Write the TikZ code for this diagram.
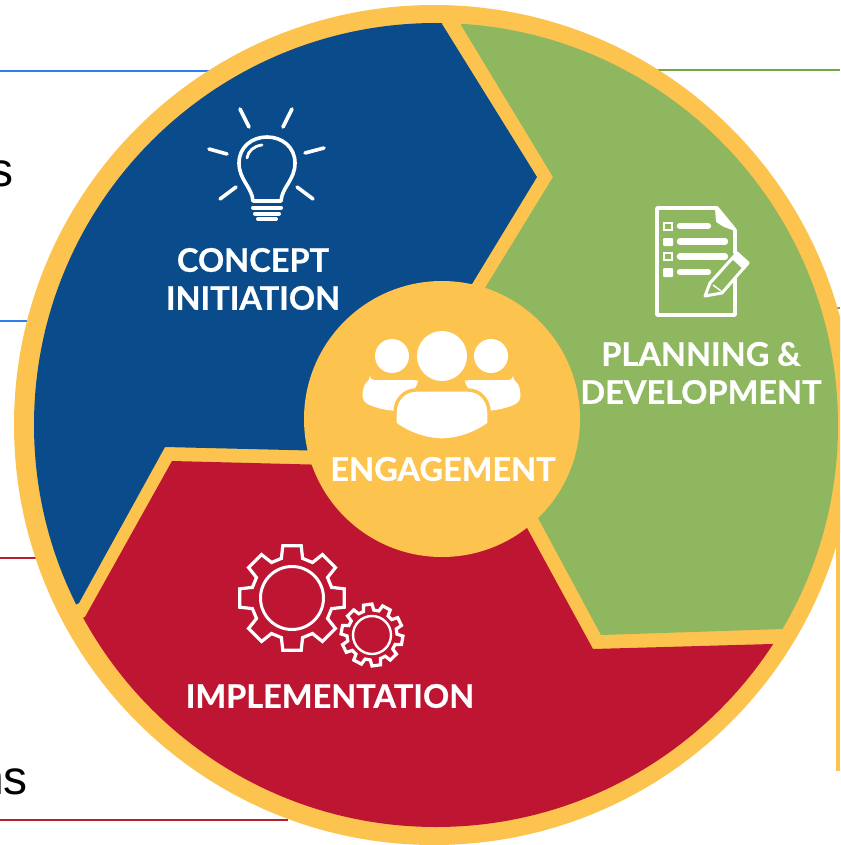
\documentclass[tikz,border=0pt]{standalone}
\usepackage{fontspec}
\setmainfont{Liberation Sans}
\newfontfamily\labelfont[BoldFeatures={FakeBold=0.7}]{Lato}
\definecolor{ringy}{HTML}{FDC34F}
\definecolor{fillb}{HTML}{0A4C8B}
\definecolor{fillg}{HTML}{8FB760}
\definecolor{fillr}{HTML}{BE1632}
\definecolor{lineb}{HTML}{2E7FEE}
\definecolor{lineg}{HTML}{70A844}
\definecolor{liner}{HTML}{B3202F}
\tikzset{
  rule/.style={line width=2.4pt},
  iconline/.style={draw=white,line width=3.6pt,line cap=round,line join=round},
  thinicon/.style={draw=white,line width=3.2pt,line join=miter},
  seglabel/.style={text=white,font=\labelfont\bfseries\fontsize{32.5}{38}\selectfont,align=center,inner sep=0pt},
  cuttext/.style={text=black,font=\fontsize{48}{50}\selectfont,inner sep=0pt,anchor=base east},
}
\begin{document}
\begin{tikzpicture}[x=1pt,y=-1pt]
\useasboundingbox (0,0) rectangle (840,845);
\clip (0,0) rectangle (840,845);
\fill[white] (0,0) rectangle (840,845);
% side rules
\draw[rule,lineb] (0,71) -- (210,71);
\draw[rule,lineb] (0,321) -- (40,321);
\draw[rule,liner] (0,558) -- (45,558);
\draw[rule,liner] (0,820) -- (288,820);
\draw[rule,lineg] (655,70) -- (840,70);
\draw[rule,lineg] (825,308) -- (840,308);
\fill[ringy] (836,520) rectangle (840,771);
% side text
\node[cuttext] (ts) at (13.5,186.5) {s};
\node[cuttext] (tns) at (28,794.5) {ns};
% wheel
\fill[ringy] (434,425) circle[radius=420pt];
\begin{scope}
\clip (436,425) circle[radius=402pt];
\fill[fillb] (537,177) -- (442,24) -- (442,-50) -- (-100,-50) -- (-100,700) -- (79,603) -- (165,447) -- (330,451) -- (442,419) -- (472,284) -- cycle;
\fill[fillg] (461,25) -- (553,177) -- (485,288) -- (442,419) -- (538,518) -- (601,635) -- (783,629) -- (900,625) -- (900,-50) -- (461,-50) -- cycle;
\fill[fillr] (172,461) -- (330,465) -- (442,419) -- (527,528) -- (593,649) -- (772,644) -- (900,640) -- (900,900) -- (-50,900) -- (-50,660) -- (85,617) -- cycle;
\end{scope}
\fill[ringy] (442,419) circle[radius=138pt];
% bulb
\foreach \xa/\ya/\xb/\yb in {240/109/249/127,292/109/283/127,209/149/227/154,324/148/305/153,220/199/236/187,313/199/297/187}
  \draw[iconline] (\xa,\ya) -- (\xb,\yb);
\draw[iconline] (253,201) .. controls (252,187) and (239,180) .. (239,163)
  .. controls (239,147) and (252,137) .. (267,137)
  .. controls (282,137) and (295,147) .. (295,163)
  .. controls (295,180) and (282,187) .. (281,201) -- cycle;
\draw[iconline,line width=2.8pt] (247,158) .. controls (248,151) and (254,146) .. (262,145);
\draw[iconline,line width=4pt] (253,207.5) -- (281,207.5);
\draw[iconline,line width=4pt] (255,213.5) -- (279,213.5);
\draw[iconline,line width=4pt] (258,219) -- (276,219);
% document
\draw[iconline] (735,253) -- (735,230) -- (717,208) -- (657,208) -- (657,315) -- (735,315) -- (735,277);
\fill[white,rounded corners=1pt] (715,208) -- (718,208) -- (735,229) -- (735,231) -- (724,227) -- (716,222) -- cycle;
\draw[white,line width=1.8pt] (664,223) rectangle (672,230);
\fill[white,rounded corners=1pt] (663,238) rectangle (673,246);
\draw[white,line width=1.8pt] (664,253) rectangle (672,260);
\fill[white,rounded corners=1pt] (663,268) rectangle (673,277);
\foreach \yy/\xe in {226/708,241.5/725,256.5/725,272/708}
  \draw[white,line width=6.4pt,line cap=round] (680,\yy) -- (\xe,\yy);
\draw[fill=fillg,draw=white,line width=3pt,line join=round] (705,296) -- (710,283) -- (737,253) -- (748,263) -- (722,293) -- cycle;
\fill[white,rounded corners=1pt] (737,251) -- (750,263) -- (744,270) -- (731,258) -- cycle;
\draw[white,line width=1.4pt] (713,285) -- (721,291);
% gears
\draw[thinicon] \foreach \a [count=\i] in {0,45,...,315} {
   \ifnum\i=1 ([shift={(292,598)}]\a-15:41) \else -- ([shift={(292,598)}]\a-15:41) \fi
   -- ([shift={(292,598)}]\a-10:53) -- ([shift={(292,598)}]\a+10:53) -- ([shift={(292,598)}]\a+15:41)
 } -- cycle;
\draw[white,line width=3pt] (292,598) circle[radius=31.5pt];
\draw[thinicon] \foreach \a [count=\i] in {10,46,...,334} {
   \ifnum\i=1 ([shift={(372,635)}]\a-12:25) \else -- ([shift={(372,635)}]\a-12:25) \fi
   -- ([shift={(372,635)}]\a-8:31) -- ([shift={(372,635)}]\a+8:31) -- ([shift={(372,635)}]\a+12:25)
 } -- cycle;
\draw[white,line width=2.4pt] (372,635) circle[radius=19pt];
% people
\fill[white] (442,356) circle[radius=25pt];
\fill[white] (392,356) circle[radius=17pt];
\fill[white] (491,356) circle[radius=17pt];
\fill[white,rounded corners=4pt] (370,380) -- (410,380) .. controls (416,380) and (418,382) .. (418,384) -- (398,411) .. controls (384,410) and (372,407) .. (363,401) .. controls (362,392) and (364,384) .. (370,380) -- cycle;
\fill[white,rounded corners=4pt] (513,380) -- (473,380) .. controls (467,380) and (465,382) .. (465,384) -- (485,411) .. controls (499,410) and (511,407) .. (520,401) .. controls (521,392) and (519,384) .. (513,380) -- cycle;
\draw[fill=white,draw=ringy,line width=3.4pt] (416,390) -- (468,390) .. controls (480,390) and (489,400) .. (489,412) -- (489,424) .. controls (475,434) and (458,440) .. (442,440) .. controls (426,440) and (409,434) .. (395,424) -- (395,412) .. controls (395,400) and (404,390) .. (416,390) -- cycle;
% labels
\node[seglabel] (concept) at (253,279) {CONCEPT\\INITIATION};
\node[seglabel] (planning) at (701,373) {PLANNING \&\\DEVELOPMENT};
\node[seglabel] (engage) at (443,469) {ENGAGEMENT};
\node[seglabel] (impl) at (330,696) {IMPLEMENTATION};
\end{tikzpicture}
\end{document}
